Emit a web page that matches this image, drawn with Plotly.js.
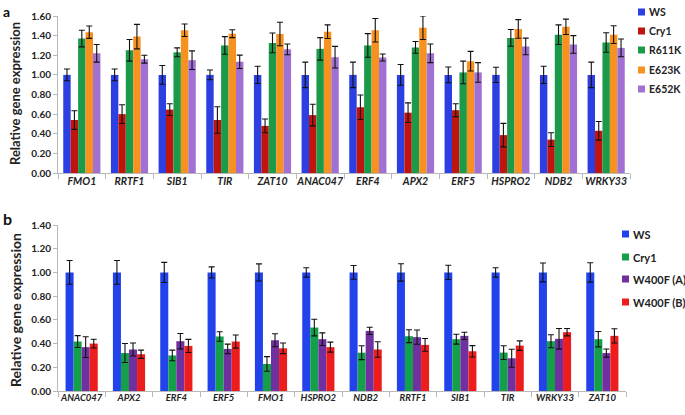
<!DOCTYPE html>
<html>
<head>
<meta charset="utf-8">
<script src="https://cdn.plot.ly/plotly-3.0.1.min.js"></script>
<style>html,body{margin:0;padding:0;background:#fff;}#chart{width:685px;height:415px;}</style>
</head>
<body>
<div id="chart"></div>
<script>
// ---- Panel a data ----
const genesA = ['FMO1','RRTF1','SIB1','TIR','ZAT10','ANAC047','ERF4','APX2','ERF5','HSPRO2','NDB2','WRKY33'];
const namesA = ['WS','Cry1','R611K','E623K','E652K'];
const wsA      = [1.00,1.00,1.00,1.00,1.00,1.00,1.00,1.00,1.00,1.00,1.00,1.00];
const wsAErr   = [0.06,0.06,0.095,0.05,0.088,0.13,0.13,0.105,0.08,0.078,0.088,0.13];
const cry1A    = [0.54,0.60,0.646,0.54,0.48,0.59,0.67,0.615,0.64,0.386,0.34,0.43];
const cry1AErr = [0.095,0.095,0.06,0.135,0.07,0.11,0.125,0.10,0.065,0.12,0.07,0.095];
const r611k    = [1.37,1.25,1.23,1.30,1.326,1.265,1.30,1.28,1.025,1.377,1.41,1.33];
const r611kErr = [0.085,0.11,0.045,0.09,0.10,0.115,0.12,0.06,0.115,0.085,0.10,0.10];
const e623k    = [1.435,1.39,1.455,1.42,1.417,1.44,1.455,1.48,1.14,1.468,1.49,1.41];
const e623kErr = [0.063,0.125,0.064,0.04,0.12,0.07,0.12,0.12,0.10,0.095,0.078,0.09];
const e652k    = [1.22,1.16,1.15,1.133,1.26,1.18,1.177,1.22,1.025,1.29,1.31,1.275];
const e652kErr = [0.09,0.04,0.095,0.068,0.055,0.11,0.035,0.095,0.10,0.085,0.09,0.09];

// ---- Panel b data ----
const genesB = ['ANAC047','APX2','ERF4','ERF5','FMO1','HSPRO2','NDB2','RRTF1','SIB1','TIR','WRKY33','ZAT10'];
const namesB = ['WS','Cry1','W400F (A)','W400F (B)'];
const wsB      = [1.00,1.00,1.00,1.00,1.00,1.00,1.00,1.00,1.00,1.00,1.00,1.00];
const wsBErr   = [0.10,0.10,0.085,0.047,0.072,0.04,0.058,0.073,0.06,0.04,0.08,0.082];
const cry1B    = [0.417,0.32,0.30,0.46,0.228,0.535,0.323,0.462,0.437,0.324,0.42,0.437];
const cry1BErr = [0.05,0.08,0.045,0.04,0.062,0.07,0.058,0.054,0.042,0.058,0.055,0.065];
const w400fA   = [0.37,0.35,0.42,0.355,0.428,0.437,0.507,0.454,0.465,0.276,0.44,0.32];
const w400fAErr= [0.087,0.055,0.065,0.04,0.055,0.053,0.031,0.06,0.031,0.076,0.087,0.034];
const w400fB   = [0.40,0.31,0.38,0.417,0.36,0.37,0.35,0.389,0.335,0.383,0.496,0.465];
const w400fBErr= [0.037,0.035,0.055,0.055,0.045,0.042,0.065,0.054,0.048,0.04,0.031,0.06];

const colorsA = ['#2b3fe3','#c0140f','#1b9a4a','#f7911f','#a070d2'];
const colorsB = ['#2242ec','#14a04b','#7030a0','#ee1d1d'];

const W = 685, H = 415;
const FONT = 'Lato, "Open Sans", "DejaVu Sans", sans-serif';

function panel(genes, names, vals, errs, colors, groupW, xa, ya) {
  const n = names.length, w = groupW / n;
  return names.map((nm, i) => ({
    type: 'bar', name: nm, x: genes, y: vals[i],
    xaxis: xa, yaxis: ya,
    width: w, offset: -groupW / 2 + i * w,
    marker: {color: colors[i], line: {width: 0}},
    error_y: {type: 'data', array: errs[i], visible: true, color: '#111', thickness: 1.1, width: 3},
    showlegend: false, hoverinfo: 'x+y+name'
  }));
}

const traces = [].concat(
  panel(genesA, namesA, [wsA, cry1A, r611k, e623k, e652k],
        [wsAErr, cry1AErr, r611kErr, e623kErr, e652kErr], colorsA, 0.78, 'x', 'y'),
  panel(genesB, namesB, [wsB, cry1B, w400fA, w400fB],
        [wsBErr, cry1BErr, w400fAErr, w400fBErr], colorsB, 0.68, 'x2', 'y2')
);

const px = v => v / W, py = v => 1 - v / H;

const xBase = {
  type: 'category', showline: true, linecolor: '#b8b8b8', linewidth: 1,
  ticks: 'outside', tickson: 'boundaries', ticklen: 5, tickcolor: '#b8b8b8', tickangle: 0,
  ticklabelstandoff: -2,
  showgrid: false, zeroline: false, automargin: false, fixedrange: true
};
const yBase = {
  showline: true, linecolor: '#b8b8b8', linewidth: 1, ticks: 'outside', ticklen: 4,
  tickcolor: '#b8b8b8', showgrid: false, zeroline: false, automargin: false,
  tickformat: '.2f', tickfont: {family: FONT, size: 10, color: '#222', weight: 'bold'}, fixedrange: true
};

// custom legends
const shapes = [], annotations = [];
const legA = {x: 638, ys: [12, 31, 50, 70, 89], size: 7, font: 10.5};
namesA.forEach((nm, i) => {
  shapes.push({type: 'rect', xref: 'paper', yref: 'paper', x0: px(legA.x), x1: px(legA.x + legA.size),
    y0: py(legA.ys[i] + legA.size / 2), y1: py(legA.ys[i] - legA.size / 2), fillcolor: colorsA[i], line: {width: 0}});
  annotations.push({xref: 'paper', yref: 'paper', x: px(legA.x + legA.size + 2), y: py(legA.ys[i]),
    xanchor: 'left', yanchor: 'middle', showarrow: false, text: nm,
    font: {family: FONT, size: legA.font, color: '#222', weight: 'bold'}});
});
const legB = {x: 622, ys: [234, 257, 279, 302], size: 7, font: 11};
namesB.forEach((nm, i) => {
  shapes.push({type: 'rect', xref: 'paper', yref: 'paper', x0: px(legB.x), x1: px(legB.x + legB.size),
    y0: py(legB.ys[i] + legB.size / 2), y1: py(legB.ys[i] - legB.size / 2), fillcolor: colorsB[i], line: {width: 0}});
  annotations.push({xref: 'paper', yref: 'paper', x: px(legB.x + legB.size + 2), y: py(legB.ys[i]),
    xanchor: 'left', yanchor: 'middle', showarrow: false, text: nm,
    font: {family: FONT, size: legB.font, color: '#222', weight: 'bold'}});
});
// panel letters & y titles
annotations.push({xref: 'paper', yref: 'paper', x: px(1), y: py(1), xanchor: 'left', yanchor: 'top',
  showarrow: false, text: 'a', font: {family: FONT, size: 14, color: '#111', weight: 'bold'}});
annotations.push({xref: 'paper', yref: 'paper', x: px(1), y: py(218), xanchor: 'left', yanchor: 'middle',
  showarrow: false, text: 'b', font: {family: FONT, size: 16, color: '#111', weight: 'bold'}});
annotations.push({xref: 'paper', yref: 'paper', x: px(15), y: py(94), xanchor: 'center', yanchor: 'middle',
  showarrow: false, textangle: -90, text: 'Relative gene expression',
  font: {family: FONT, size: 13, color: '#222', weight: 'bold'}});
annotations.push({xref: 'paper', yref: 'paper', x: px(15), y: py(310), xanchor: 'center', yanchor: 'middle',
  showarrow: false, textangle: -90, text: 'Relative gene expression',
  font: {family: FONT, size: 14, color: '#222', weight: 'bold'}});

const layout = {
  width: W, height: H, margin: {l: 0, r: 0, t: 0, b: 0},
  paper_bgcolor: '#fff', plot_bgcolor: '#fff',
  barmode: 'overlay', showlegend: false,
  font: {family: FONT, color: '#222'},
  xaxis: Object.assign({}, xBase, {domain: [px(58), px(630)], anchor: 'y',
    categoryorder: 'array', categoryarray: genesA,
    tickfont: {family: FONT, size: 10.5, color: '#222', weight: 'bold', style: 'italic'}}),
  yaxis: Object.assign({}, yBase, {domain: [py(173), py(16)], anchor: 'x', range: [0, 1.6], dtick: 0.2}),
  xaxis2: Object.assign({}, xBase, {domain: [px(58), px(626)], anchor: 'y2',
    categoryorder: 'array', categoryarray: genesB,
    tickfont: {family: FONT, size: 9.5, color: '#222', weight: 'bold', style: 'italic'}}),
  yaxis2: Object.assign({}, yBase, {domain: [py(391), py(225)], anchor: 'x2', range: [0, 1.4], dtick: 0.2}),
  shapes: shapes, annotations: annotations
};

Plotly.newPlot('chart', traces, layout, {staticPlot: true, displayModeBar: false});
</script>
</body>
</html>
